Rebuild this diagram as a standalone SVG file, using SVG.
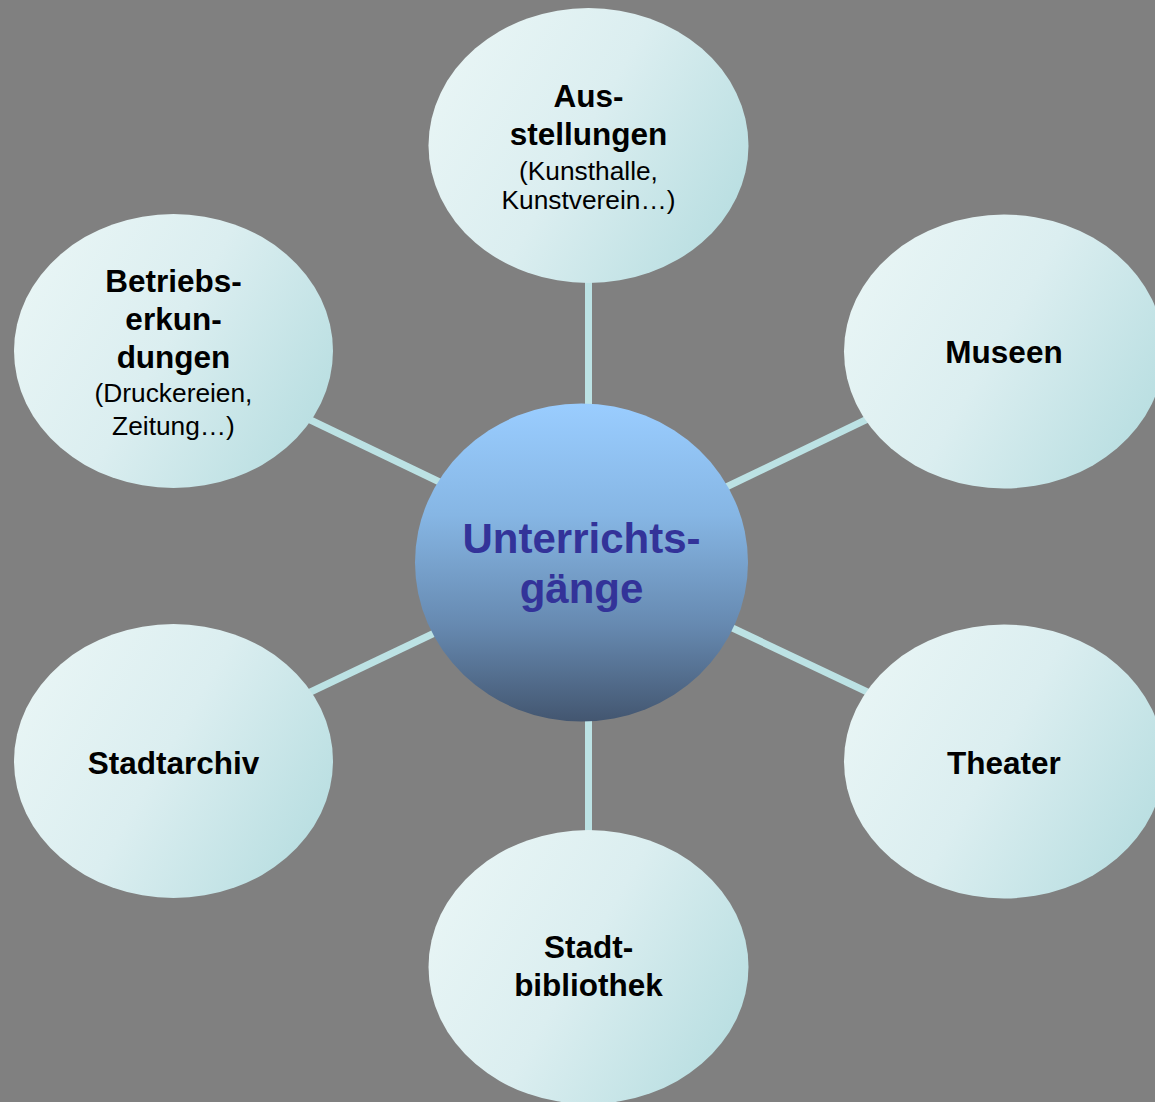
<svg xmlns="http://www.w3.org/2000/svg" width="1155" height="1102" viewBox="0 0 1155 1102">
  <defs>
    <linearGradient id="nodeFill" x1="0" y1="0.3" x2="1" y2="0.8">
      <stop offset="0" stop-color="#e8f5f5"/>
      <stop offset="0.45" stop-color="#dbeef0"/>
      <stop offset="1" stop-color="#b6dde0"/>
    </linearGradient>
    <linearGradient id="centerFill" x1="0" y1="0" x2="0" y2="1">
      <stop offset="0" stop-color="#9acdff"/>
      <stop offset="0.35" stop-color="#86b6e4"/>
      <stop offset="0.7" stop-color="#6689b0"/>
      <stop offset="1" stop-color="#435670"/>
    </linearGradient>
    <style>
      .node { fill: url(#nodeFill); }
      .conn { stroke: #bce2e4; stroke-width: 7; fill: none; }
      .b { font-family: "Liberation Sans", Arial, sans-serif; font-weight: bold; font-size: 31.5px; fill: #000; text-anchor: middle; }
      .r { font-family: "Liberation Sans", Arial, sans-serif; font-size: 26.3px; fill: #000; text-anchor: middle; }
      .c { font-family: "Liberation Sans", Arial, sans-serif; font-weight: bold; font-size: 42px; fill: #333399; text-anchor: middle; }
    </style>
  </defs>
  <rect width="1155" height="1102" fill="#808080"/>
  <g id="connectors">
    <line class="conn" x1="588.5" y1="270" x2="588.5" y2="420"/>
    <line class="conn" x1="588.5" y1="700" x2="588.5" y2="845"/>
    <line class="conn" x1="720" y1="490" x2="880" y2="413"/>
    <line class="conn" x1="724" y1="624" x2="880" y2="698"/>
    <line class="conn" x1="300" y1="415" x2="450" y2="487"/>
    <line class="conn" x1="300" y1="697" x2="445" y2="628"/>
  </g>
  <g id="node-ausstellungen">
    <ellipse class="node" cx="588.5" cy="145.5" rx="160" ry="137.5"/>
    <text class="b" x="588.5" y="107">Aus-</text>
    <text class="b" x="588.5" y="145">stellungen</text>
    <text class="r" x="588.5" y="180">(Kunsthalle,</text>
    <text class="r" x="588.5" y="209">Kunstverein…)</text>
  </g>
  <g id="node-museen">
    <ellipse class="node" cx="1004" cy="351.5" rx="160" ry="137"/>
    <text class="b" x="1004" y="363">Museen</text>
  </g>
  <g id="node-theater">
    <ellipse class="node" cx="1004" cy="761.5" rx="160" ry="137"/>
    <text class="b" x="1004" y="774">Theater</text>
  </g>
  <g id="node-stadtbibliothek">
    <ellipse class="node" cx="588.5" cy="967" rx="160" ry="137"/>
    <text class="b" x="588.5" y="958">Stadt-</text>
    <text class="b" x="588.5" y="996">bibliothek</text>
  </g>
  <g id="node-stadtarchiv">
    <ellipse class="node" cx="173.5" cy="761" rx="159.5" ry="137"/>
    <text class="b" x="173.5" y="774">Stadtarchiv</text>
  </g>
  <g id="node-betriebserkundungen">
    <ellipse class="node" cx="173.5" cy="351" rx="159.5" ry="137"/>
    <text class="b" x="173.5" y="292">Betriebs-</text>
    <text class="b" x="173.5" y="330">erkun-</text>
    <text class="b" x="173.5" y="368">dungen</text>
    <text class="r" x="173.5" y="402">(Druckereien,</text>
    <text class="r" x="173.5" y="435">Zeitung…)</text>
  </g>
  <g id="node-center">
    <ellipse cx="581.5" cy="562.5" rx="166.5" ry="159" fill="url(#centerFill)"/>
    <text class="c" x="581.5" y="553">Unterrichts-</text>
    <text class="c" x="581.5" y="603">gänge</text>
  </g>
</svg>
